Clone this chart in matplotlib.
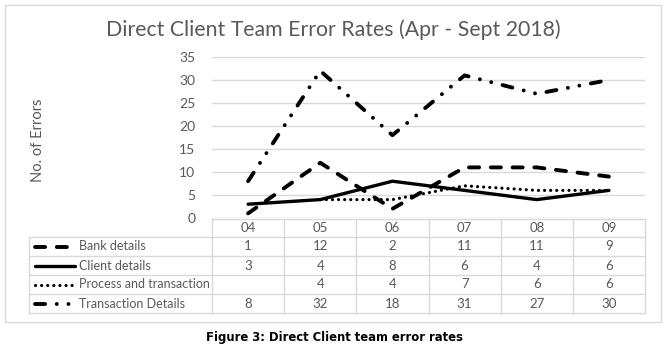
import numpy as np
import matplotlib
matplotlib.use("Agg")
import matplotlib.pyplot as plt
from matplotlib.lines import Line2D
from matplotlib.patches import Rectangle

months = ["04", "05", "06", "07", "08", "09"]
bank_details = [1, 12, 2, 11, 11, 9]
client_details = [3, 4, 8, 6, 4, 6]
process_transaction = [np.nan, 4, 4, 7, 6, 6]
transaction_details = [8, 32, 18, 31, 27, 30]
series_names = ["Bank details", "Client details", "Process and transaction", "Transaction Details"]
series_values = [bank_details, client_details, process_transaction, transaction_details]
yticks = [0, 5, 10, 15, 20, 25, 30, 35]

W, H = 667, 349
plt.rcParams['font.family'] = ['Lato', 'DejaVu Sans']
fig = plt.figure(figsize=(W / 100, H / 100), dpi=100)

def fx(px):
    return px / W

def fy(py):
    return 1 - py / H

gray = "#595959"
grid = "#d9d9d9"

styles = [
    dict(linestyle=(0, (2.6, 3.0)), linewidth=2.8),
    dict(linestyle="-", linewidth=2.4),
    dict(linestyle=(0, (0.01, 1.9)), linewidth=2.3),
    dict(linestyle=(0, (2.6, 3.0, 0.01, 3.0, 0.01, 3.0)), linewidth=2.8),
]

# outer border
fig.add_artist(Rectangle((fx(5), fy(322)), fx(656), 317 / H, fill=False,
                         edgecolor=grid, linewidth=1.0, transform=fig.transFigure))

ax_left, ax_right = 212, 645
ax_top, ax_bot = 57, 218
ax = fig.add_axes([fx(ax_left), fy(ax_bot), fx(ax_right - ax_left), (ax_bot - ax_top) / H])
x = np.arange(len(months))
for vals, st in zip(series_values, styles):
    ax.plot(x, vals, color="black", dash_capstyle="round", solid_capstyle="round",
            dash_joinstyle="round", solid_joinstyle="round", clip_on=False, **st)
ax.set_xlim(-0.5, len(months) - 0.5)
ax.set_ylim(0, 35)
ax.set_yticks(yticks)
ax.set_xticks([])
for s in ax.spines.values():
    s.set_visible(False)
ax.yaxis.grid(True, color=grid, linewidth=1.0)
ax.set_axisbelow(True)
ax.tick_params(axis="y", length=0, labelsize=10, labelcolor=gray, pad=12)

fig.text(0.5, fy(30), "Direct Client Team Error Rates (Apr - Sept 2018)",
         ha="center", va="center", fontsize=15.3, color=gray)
fig.text(fx(38), fy(140), "No. of Errors", rotation=90, ha="center", va="center",
         fontsize=10.5, color=gray)

# data table
row_tops = [219, 237, 256, 275, 294, 313]
tab_left = 29
col_edges = [tab_left] + [ax_left + (ax_right - ax_left) * i / len(months) for i in range(len(months) + 1)]

def hline(x0, x1, y):
    fig.add_artist(Line2D([fx(x0), fx(x1)], [fy(y), fy(y)], color=grid, linewidth=1.0,
                          transform=fig.transFigure))

def vline(xx, y0, y1):
    fig.add_artist(Line2D([fx(xx), fx(xx)], [fy(y0), fy(y1)], color=grid, linewidth=1.0,
                          transform=fig.transFigure))

hline(ax_left, ax_right, row_tops[0])
for y in row_tops[1:]:
    hline(tab_left, ax_right, y)
vline(tab_left, row_tops[1], row_tops[-1])
for xx in col_edges[1:]:
    vline(xx, row_tops[0], row_tops[-1])

fs = 9.5
for i, m in enumerate(months):
    cx = (col_edges[i + 1] + col_edges[i + 2]) / 2
    fig.text(fx(cx), fy((row_tops[0] + row_tops[1]) / 2), m, ha="center", va="center",
             fontsize=fs, color=gray)
for r, (name, vals, st) in enumerate(zip(series_names, series_values, styles)):
    cy = (row_tops[r + 1] + row_tops[r + 2]) / 2
    fig.add_artist(Line2D([fx(35), fx(75)], [fy(cy), fy(cy)], color="black",
                          transform=fig.transFigure, dash_capstyle="round",
                          solid_capstyle="round", **st))
    fig.text(fx(79), fy(cy), name, ha="left", va="center", fontsize=9, color=gray)
    for i, v in enumerate(vals):
        if np.isnan(v):
            continue
        cx = (col_edges[i + 1] + col_edges[i + 2]) / 2
        fig.text(fx(cx), fy(cy), f"{int(v)}", ha="center", va="center", fontsize=fs,
                 color=gray)

fig.text(fx(334), fy(338), "Figure 3: Direct Client team error rates", ha="center",
         va="center", fontsize=8.4, fontweight="bold", color="black",
         family=["DejaVu Sans"])

fig.savefig("out.png", dpi=100)
